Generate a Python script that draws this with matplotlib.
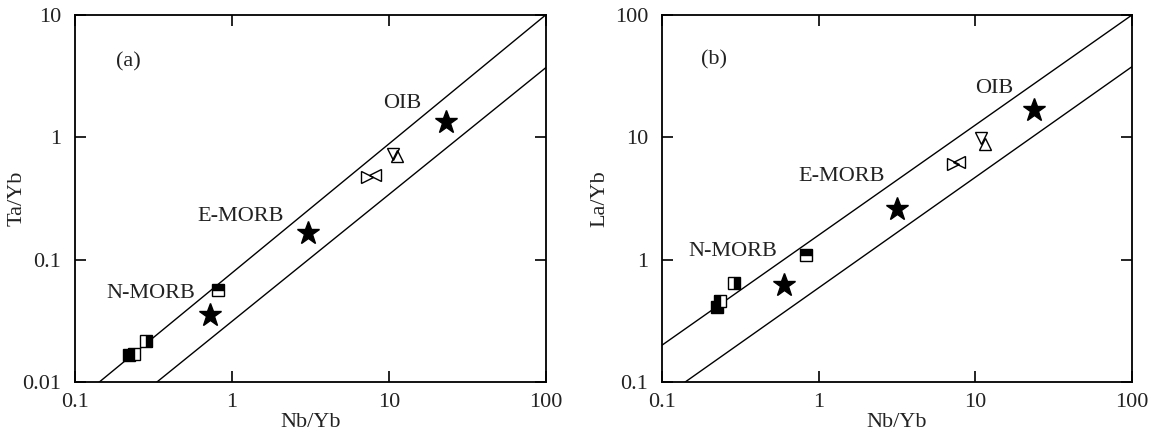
import matplotlib
matplotlib.use("Agg")
import matplotlib.pyplot as plt
from matplotlib.ticker import FixedLocator, FixedFormatter, NullLocator

plt.rcParams['font.family'] = ['Liberation Serif', 'DejaVu Serif']
plt.rcParams['font.size'] = 16

# panel (a): Ta/Yb vs Nb/Yb
a_star_x = [0.72, 3.05, 23.1]
a_star_y = [0.0352, 0.164, 1.34]
a_sq_full = ([0.22], [0.0166])
a_sq_left = ([0.236], [0.0170])
a_sq_right = ([0.285], [0.0217])
a_sq_top = ([0.82], [0.0564])
a_tri_r = ([7.3], [0.47])     # pointing right
a_tri_l = ([8.2], [0.49])     # pointing left
a_tri_d = ([10.7], [0.73])    # pointing down
a_tri_u = ([11.3], [0.70])    # pointing up
a_upper = ([0.143, 100], [0.01, 10])
a_lower = ([0.333, 100], [0.01, 3.7])

# panel (b): La/Yb vs Nb/Yb
b_star_x = [0.60, 3.17, 23.6]
b_star_y = [0.62, 2.58, 16.7]
b_sq_full = ([0.225], [0.41])
b_sq_left = ([0.236], [0.46])
b_sq_right = ([0.289], [0.64])
b_sq_top = ([0.83], [1.09])
b_tri_r = ([7.2], [6.0])
b_tri_l = ([7.9], [6.3])
b_tri_d = ([10.8], [9.9])
b_tri_u = ([11.5], [8.8])
b_upper = ([0.1, 100], [0.2, 100])
b_lower = ([0.1406, 100], [0.1, 37.8])

x_ticks = [0.1, 1, 10, 100]
x_labels = ['0.1', '1', '10', '100']
a_yticks = [0.01, 0.1, 1, 10]
a_ylabels = ['0.01', '0.1', '1', '10']
b_yticks = [0.1, 1, 10, 100]
b_ylabels = ['0.1', '1', '10', '100']

TXT = '#222222'

fig = plt.figure(figsize=(11.52, 4.38), dpi=100)
ax_a = fig.add_axes([0.0651, 0.1279, 0.4086, 0.838])
ax_b = fig.add_axes([0.5747, 0.1279, 0.408, 0.838])


def draw_panel(ax, upper, lower, star_x, star_y, sq_full, sq_left, sq_right, sq_top,
               tri_r, tri_l, tri_d, tri_u):
    ax.plot(*upper, color='black', lw=1.0)
    ax.plot(*lower, color='black', lw=1.0)

    sq = dict(marker='s', ms=8, mec='black', mew=1.0, mfc='black',
              markerfacecoloralt='white', ls='none')
    ax.plot(*sq_full, **sq)
    ax.plot(*sq_left, fillstyle='left', **sq)
    ax.plot(*sq_right, fillstyle='right', **sq)
    ax.plot(*sq_top, fillstyle='top', **sq)

    tri = dict(ms=9, mec='black', mew=1.0, mfc='none', ls='none')
    ax.plot(*tri_r, marker='>', **tri)
    ax.plot(*tri_l, marker='<', **tri)
    ax.plot(*tri_d, marker='v', **tri)
    ax.plot(*tri_u, marker='^', **tri)

    ax.plot(star_x, star_y, marker='*', ms=17, color='black', ls='none')

    ax.set_xscale('log')
    ax.set_yscale('log')
    ax.set_xlim(0.1, 100)

    for s in ax.spines.values():
        s.set_linewidth(1.3)


draw_panel(ax_a, a_upper, a_lower, a_star_x, a_star_y, a_sq_full, a_sq_left,
           a_sq_right, a_sq_top, a_tri_r, a_tri_l, a_tri_d, a_tri_u)
draw_panel(ax_b, b_upper, b_lower, b_star_x, b_star_y, b_sq_full, b_sq_left,
           b_sq_right, b_sq_top, b_tri_r, b_tri_l, b_tri_d, b_tri_u)

ax_a.set_ylim(0.01, 10)
ax_b.set_ylim(0.1, 100)

for ax, yt, yl in [(ax_a, a_yticks, a_ylabels), (ax_b, b_yticks, b_ylabels)]:
    ax.xaxis.set_major_locator(FixedLocator(x_ticks))
    ax.xaxis.set_major_formatter(FixedFormatter(x_labels))
    ax.yaxis.set_major_locator(FixedLocator(yt))
    ax.yaxis.set_major_formatter(FixedFormatter(yl))
    ax.xaxis.set_minor_locator(NullLocator())
    ax.yaxis.set_minor_locator(NullLocator())
    ax.tick_params(which='major', direction='in', length=8, width=1.2,
                   top=True, right=True, labelcolor=TXT)
    ax.tick_params(axis='x', pad=8)
    ax.tick_params(axis='y', pad=10)
    ax.set_xlabel('Nb/Yb', color=TXT, labelpad=1)

ax_a.set_ylabel('Ta/Yb', color=TXT)
ax_a.yaxis.set_label_coords(-0.102, 0.5)
ax_b.set_ylabel('La/Yb', color=TXT)
ax_b.yaxis.set_label_coords(-0.113, 0.5)

# field labels
ax_a.text(0.114, 0.873, '(a)', transform=ax_a.transAxes, ha='center', va='center', color=TXT)
ax_a.text(0.696, 0.759, 'OIB', transform=ax_a.transAxes, ha='center', va='center', color=TXT)
ax_a.text(0.352, 0.450, 'E-MORB', transform=ax_a.transAxes, ha='center', va='center', color=TXT)
ax_a.text(0.161, 0.242, 'N-MORB', transform=ax_a.transAxes, ha='center', va='center', color=TXT)

ax_b.text(0.110, 0.877, '(b)', transform=ax_b.transAxes, ha='center', va='center', color=TXT)
ax_b.text(0.707, 0.800, 'OIB', transform=ax_b.transAxes, ha='center', va='center', color=TXT)
ax_b.text(0.381, 0.559, 'E-MORB', transform=ax_b.transAxes, ha='center', va='center', color=TXT)
ax_b.text(0.150, 0.355, 'N-MORB', transform=ax_b.transAxes, ha='center', va='center', color=TXT)

plt.savefig('out.png', dpi=100)
